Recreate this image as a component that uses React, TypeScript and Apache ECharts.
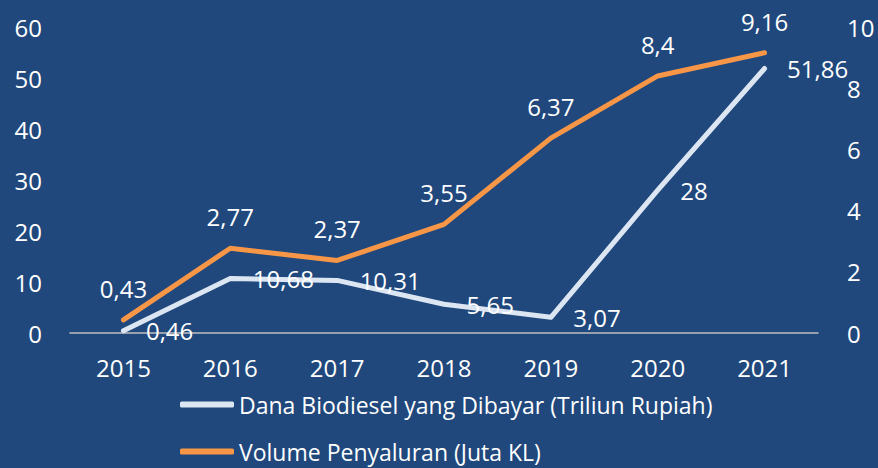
import React, { useEffect, useRef } from "react";
import * as echarts from "echarts";

const years = ["2015", "2016", "2017", "2018", "2019", "2020", "2021"];
const dana = [0.46, 10.68, 10.31, 5.65, 3.07, 28, 51.86];
const volume = [0.43, 2.77, 2.37, 3.55, 6.37, 8.4, 9.16];
const danaName = "Dana Biodiesel yang Dibayar (Triliun Rupiah)";
const volumeName = "Volume Penyaluran (Juta KL)";

const FONT = "'Open Sans', sans-serif";
const fmt = (p: any) => String(p.value).replace(".", ",");

const legendBase = {
  left: 175,
  itemWidth: 54,
  itemHeight: 6,
  icon: "roundRect",
  textStyle: { color: "#FFFFFF", fontSize: 23, fontFamily: FONT },
};

export default function App() {
  const ref = useRef<HTMLDivElement>(null);
  useEffect(() => {
    if (!ref.current) return;
    const chart = echarts.init(ref.current, undefined, { renderer: "svg" });
    chart.setOption({
      animation: false,
      backgroundColor: "#20487C",
      textStyle: { fontFamily: FONT },
      grid: { left: 70, right: 60, top: 27, bottom: 135 },
      legend: [
        { ...legendBase, top: 388, data: [danaName] },
        { ...legendBase, top: 435, data: [volumeName] },
      ],
      xAxis: {
        type: "category",
        data: years,
        boundaryGap: true,
        axisLine: { show: true, lineStyle: { color: "#BFBFBF", width: 1.5 } },
        axisTick: { show: false },
        axisLabel: { color: "#FFFFFF", fontSize: 24, fontFamily: FONT, margin: 22 },
        splitLine: { show: false },
      },
      yAxis: [
        {
          type: "value",
          min: 0,
          max: 60,
          interval: 10,
          axisLine: { show: false },
          axisTick: { show: false },
          splitLine: { show: false },
          axisLabel: { color: "#FFFFFF", fontSize: 24, fontFamily: FONT, margin: 28 },
        },
        {
          type: "value",
          min: 0,
          max: 10,
          interval: 2,
          position: "right",
          axisLine: { show: false },
          axisTick: { show: false },
          splitLine: { show: false },
          axisLabel: { color: "#FFFFFF", fontSize: 24, fontFamily: FONT, margin: 29 },
        },
      ],
      series: [
        {
          name: volumeName,
          type: "line",
          yAxisIndex: 1,
          data: volume,
          symbol: "circle",
          symbolSize: 1,
          showSymbol: true,
          lineStyle: { color: "#F79646", width: 5, cap: "round", join: "round" },
          itemStyle: { color: "#F79646" },
          label: {
            show: true,
            position: "top",
            distance: 19,
            color: "#FFFFFF",
            fontSize: 24,
            fontFamily: FONT,
            formatter: fmt,
          },
          z: 2,
        },
        {
          name: danaName,
          type: "line",
          yAxisIndex: 0,
          data: dana,
          symbol: "circle",
          symbolSize: 1,
          showSymbol: true,
          lineStyle: { color: "#DCE6F2", width: 5, cap: "round", join: "round" },
          itemStyle: { color: "#DCE6F2" },
          label: {
            show: true,
            position: "right",
            distance: 22,
            color: "#FFFFFF",
            fontSize: 24,
            fontFamily: FONT,
            formatter: fmt,
          },
          z: 3,
        },
      ],
    });
    return () => chart.dispose();
  }, []);
  return <div ref={ref} style={{ width: 878, height: 468, position: "absolute", left: 0, top: 0 }} />;
}
